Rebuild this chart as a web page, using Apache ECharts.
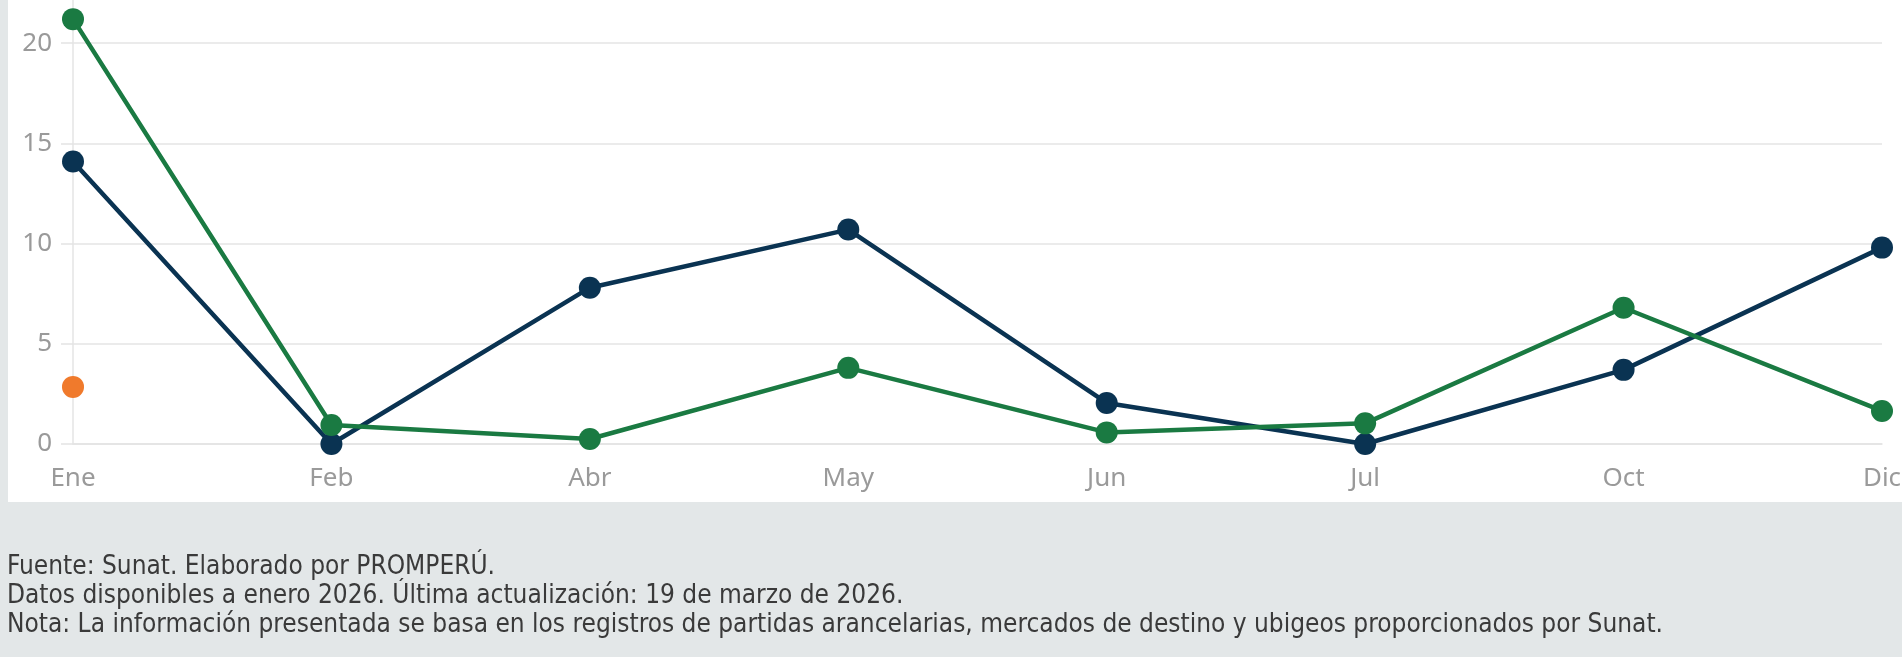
<!DOCTYPE html>
<html>
<head>
<meta charset="utf-8">
<script src="https://cdn.jsdelivr.net/npm/echarts@6/dist/echarts.min.js"></script>
<style>
  html, body { margin: 0; padding: 0; background: #e3e7e8; }
  #chart { width: 1902px; height: 657px; }
</style>
</head>
<body>
<div id="chart"></div>
<script>
const categories = ['Ene', 'Feb', 'Abr', 'May', 'Jun', 'Jul', 'Oct', 'Dic'];
const seriesNavy = [14.1, 0, 7.8, 10.7, 2.05, 0, 3.7, 9.8];
const seriesGreen = [21.2, 0.95, 0.25, 3.8, 0.58, 1.03, 6.8, 1.65];
const seriesOrange = [2.85, null, null, null, null, null, null, null];
const yTicks = { min: 0, max: 25, interval: 5 };
const footnotes = [
  'Fuente: Sunat. Elaborado por PROMPERÚ.',
  'Datos disponibles a enero 2026. Última actualización: 19 de marzo de 2026.',
  'Nota: La información presentada se basa en los registros de partidas arancelarias, mercados de destino y ubigeos proporcionados por Sunat.'
];

const chart = echarts.init(document.getElementById('chart'), null, { renderer: 'canvas' });
const labelFont = '"Noto Sans", "Open Sans", sans-serif';
const noteFont = '"Liberation Sans Narrow", "DejaVu Sans Condensed", "Noto Sans", sans-serif';

chart.setOption({
  backgroundColor: '#e3e7e8',
  animation: false,
  graphic: [
    { type: 'rect', x: 8, y: 0, shape: { width: 1894, height: 502 }, style: { fill: '#ffffff' }, z: -10, silent: true }
  ].concat(footnotes.map((t, i) => ({
    type: 'text', x: 7, y: 567 + i * 29,
    style: { text: t, fill: '#3a3a3a', font: '26px ' + noteFont, verticalAlign: 'middle' }
  }))),
  grid: { left: 73, right: 20, top: -57, bottom: 213, containLabel: false, outerBoundsMode: 'none' },
  xAxis: {
    type: 'category',
    data: categories,
    boundaryGap: false,
    axisLine: { show: true, lineStyle: { color: '#e4e4e4', width: 1.5 } },
    axisTick: { show: false },
    axisLabel: { color: '#9a9a9a', fontSize: 26, fontFamily: labelFont, margin: 22 },
    splitLine: { show: false }
  },
  yAxis: {
    type: 'value',
    min: yTicks.min, max: yTicks.max, interval: yTicks.interval,
    axisLine: { show: true, lineStyle: { color: '#e4e4e4', width: 1.5 } },
    axisTick: { show: true, length: 12, lineStyle: { color: '#e4e4e4', width: 1.5 } },
    axisLabel: { color: '#9a9a9a', fontSize: 26, fontFamily: labelFont, margin: 21 },
    splitLine: { show: true, lineStyle: { color: '#e4e4e4', width: 1.5 } }
  },
  series: [
    {
      type: 'line', data: seriesNavy, symbol: 'circle', symbolSize: 22,
      itemStyle: { color: '#0a3352' }, lineStyle: { color: '#0a3352', width: 4.5 }, z: 3
    },
    {
      type: 'line', data: seriesGreen, symbol: 'circle', symbolSize: 22,
      itemStyle: { color: '#1a7a42' }, lineStyle: { color: '#1a7a42', width: 4.5 }, z: 4
    },
    {
      type: 'line', data: seriesOrange, symbol: 'circle', symbolSize: 22,
      itemStyle: { color: '#f07a2c' }, lineStyle: { color: '#f07a2c', width: 4.5 }, z: 5
    }
  ]
});
</script>
</body>
</html>
